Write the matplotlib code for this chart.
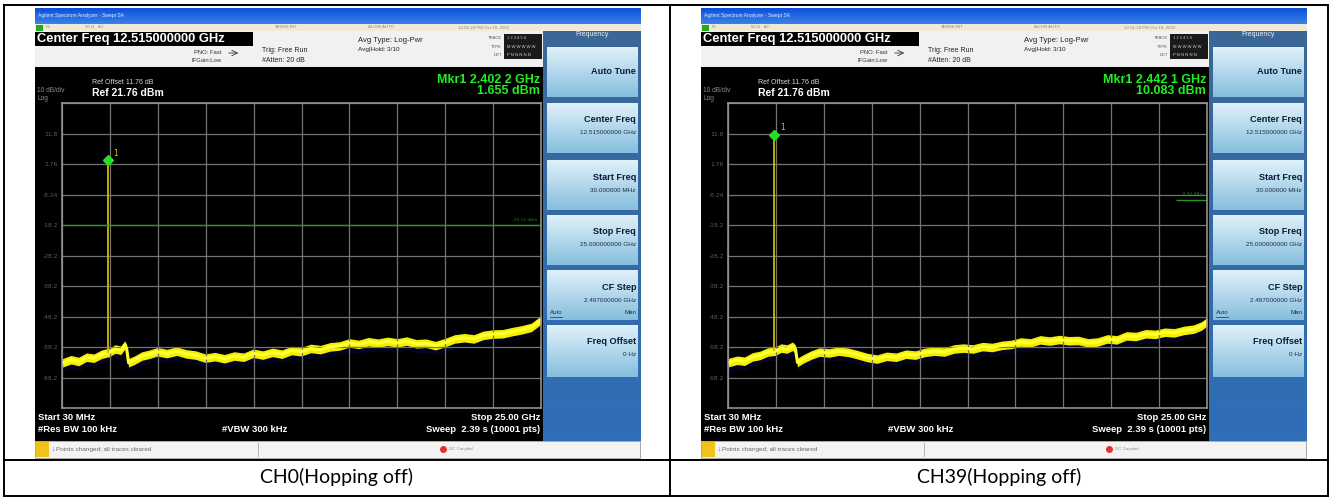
import matplotlib.pyplot as plt
import numpy as np
from matplotlib.patches import Rectangle
from matplotlib.colors import LinearSegmentedColormap
from matplotlib.transforms import offset_copy

W, H = 1338, 497

# spectrum traces (GHz, dBm)
freq_ch0 = [0.03, 0.5, 0.9, 1.3, 1.7, 2.1, 2.5, 2.8, 3.1, 3.3, 3.4, 3.5, 3.8, 4.2, 4.6,
            5.0, 5.5, 6.0, 6.5, 7.0, 7.5, 8.0, 8.5, 9.0, 9.5, 10.0, 10.5, 11.0, 11.5,
            12.0, 12.5, 13.0, 13.5, 14.0, 14.5, 15.0, 15.5, 16.0, 16.5, 17.0, 17.5,
            18.0, 18.5, 19.0, 19.5, 20.0, 20.5, 21.0, 21.5, 22.0, 22.5, 23.0, 23.5,
            24.0, 24.5, 25.0]
level_ch0 = [-63.5, -62.4, -63.0, -61.6, -61.9, -60.6, -60.0, -58.9, -59.3, -57.6, -58.8,
             -63.4, -62.6, -61.2, -60.6, -59.8, -60.4, -59.6, -60.5, -60.9, -61.9, -61.4,
             -62.1, -61.2, -61.6, -60.3, -60.9, -60.0, -60.6, -59.4, -59.8, -58.7, -59.1,
             -58.2, -57.9, -56.9, -57.4, -56.5, -57.0, -56.4, -56.9, -56.3, -57.2, -57.0,
             -57.8, -56.8, -55.6, -55.2, -55.6, -54.4, -54.0, -53.9, -53.2, -52.6, -51.8,
             -49.4]

freq_ch39 = [0.03, 0.5, 0.9, 1.3, 1.7, 2.1, 2.5, 2.8, 3.1, 3.4, 3.55, 3.65, 4.0, 4.4, 4.8,
             5.3, 5.8, 6.3, 6.8, 7.3, 7.8, 8.3, 8.8, 9.3, 9.8, 10.3, 10.8, 11.3, 11.8,
             12.3, 12.8, 13.3, 13.8, 14.3, 14.8, 15.3, 15.8, 16.3, 16.8, 17.3, 17.8,
             18.3, 18.8, 19.3, 19.8, 20.3, 20.8, 21.3, 21.8, 22.3, 22.8, 23.3, 23.8,
             24.3, 24.7, 25.0]
level_ch39 = [-63.4, -62.6, -62.9, -61.5, -61.0, -59.9, -59.6, -58.6, -58.9, -58.0, -59.0,
              -63.3, -62.0, -60.8, -59.9, -60.2, -59.6, -60.0, -60.8, -61.7, -62.2, -61.3,
              -61.6, -60.6, -60.9, -60.0, -59.6, -59.9, -58.9, -58.6, -58.9, -58.1, -58.4,
              -57.7, -57.4, -56.6, -56.9, -55.9, -56.3, -55.8, -56.2, -56.1, -56.9, -56.6,
              -55.6, -55.9, -54.6, -54.8, -53.9, -54.1, -53.4, -53.6, -52.8, -52.4, -51.4,
              -50.0]

mkr_freq = [2.4022, 2.4421]
mkr_level = [1.655, 10.083]
mkr_labels = [("Mkr1 2.402 2 GHz", "1.655 dBm"), ("Mkr1 2.442 1 GHz", "10.083 dBm")]
dl_from = [0.03, 23.4]          # where the display line starts
captions = ["CH0(Hopping off)", "CH39(Hopping off)"]

ref_level = 21.76
start_ghz, stop_ghz = 0.03, 25.0
softkeys = [("Auto Tune", ""), ("Center Freq", "12.515000000 GHz"),
            ("Start Freq", "30.000000 MHz"), ("Stop Freq", "25.000000000 GHz"),
            ("CF Step", "2.497000000 GHz"), ("Freq Offset", "0 Hz")]
key_rows = [(47, 97), (103, 153), (160, 210), (215, 265), (270, 320), (325, 377)]

fig = plt.figure(figsize=(W / 100, H / 100), dpi=100)
fig.patch.set_facecolor("white")
bg = fig.add_axes([0, 0, 1, 1])
bg.set_axis_off()

SANS = "Liberation Sans"


def grad(x0, x1, y0, y1, c_top, c_bot, z=1):
    cm = LinearSegmentedColormap.from_list("g", [c_top, c_bot])
    bg.imshow(np.linspace(0, 1, 64).reshape(-1, 1), cmap=cm, extent=(x0, x1, y1, y0),
              aspect="auto", zorder=z, interpolation="bilinear")


def rect(x0, y0, x1, y1, fc, ec="none", lw=0, z=1):
    bg.add_patch(Rectangle((x0, y0), x1 - x0, y1 - y0, fc=fc, ec=ec, lw=lw, zorder=z))


def txt(x, y, s, size, color="black", weight="normal", ha="left", z=5, family=SANS):
    bg.text(x, y, s, fontsize=size, color=color, fontweight=weight, ha=ha, va="center",
            zorder=z, family=family)


traces = [(freq_ch0, level_ch0), (freq_ch39, level_ch39)]

for i in range(2):
    dx = 666 * i
    # window chrome
    grad(35 + dx, 641 + dx, 8, 24, "#0b4fd8", "#3c82ea")
    txt(38 + dx, 15, "Agilent Spectrum Analyzer - Swept SA", 3.6, "#e8f0ff")
    rect(35 + dx, 24, 641 + dx, 31, "#efe9d8", z=2)
    rect(36 + dx, 24.5, 43 + dx, 30.5, "#22aa22", z=3)
    for xx, s in [(46, "RL"), (85, "50 \u03a9   AC"), (275, "SENSE:INT"), (368, "ALIGN AUTO"),
                  (458, "12:01:24 PM Oct 18, 2022")]:
        txt(xx + dx, 27.5, s, 3.2, "#8a8a8a")
    rect(35 + dx, 31, 543 + dx, 67, "#f1f1f1", z=2)
    rect(35 + dx, 32, 253 + dx, 46, "black", z=3)
    txt(37 + dx, 39, "Center Freq 12.515000000 GHz", 9.3, "white", "bold")
    txt(221 + dx, 52, "PNO: Fast", 4.2, "#333333", ha="right")
    txt(221 + dx, 61, "IFGain:Low", 4.2, "#333333", ha="right")
    bg.annotate("", xy=(241 + dx, 53), xytext=(226 + dx, 53), zorder=5,
                arrowprops=dict(arrowstyle="->", lw=0.6, color="#333333"))
    txt(262 + dx, 51, "Trig: Free Run", 5.0, "#222222")
    txt(262 + dx, 61, "#Atten: 20 dB", 5.0, "#222222")
    txt(358 + dx, 41, "Avg Type: Log-Pwr", 5.5, "#222222")
    txt(358 + dx, 49, "Avg|Hold: 3/10", 4.6, "#222222")
    rect(504 + dx, 34, 542 + dx, 59, "#1a1a1a", z=3)
    for yy, lab, val in [(38, "TRACE", "1 2 3 4 5 6"), (47, "TYPE", "M W W W W W"),
                         (55, "DET", "P N N N N N")]:
        txt(502 + dx, yy, lab, 3.0, "#555555", ha="right")
        txt(507 + dx, yy, val, 3.0, "#cfcfcf")

    # black screen
    rect(35 + dx, 67, 543 + dx, 441, "black", z=2)
    txt(37 + dx, 91, "10 dB/div", 4.8, "#8a8a8a")
    txt(37 + dx, 99, "Log", 4.8, "#8a8a8a")
    txt(92 + dx, 83, "Ref Offset 11.76 dB", 5.0, "#d8d8d8")
    txt(92 + dx, 93, "Ref 21.76 dBm", 7.5, "white", "bold")
    txt(540 + dx, 80, mkr_labels[i][0], 9, "#22ee22", "bold", ha="right")
    txt(540 + dx, 91, mkr_labels[i][1], 9, "#22ee22", "bold", ha="right")
    txt(38 + dx, 417, "Start 30 MHz", 6.8, "white", "bold")
    txt(38 + dx, 430, "#Res BW 100 kHz", 6.8, "white", "bold")
    txt(222 + dx, 430, "#VBW 300 kHz", 6.8, "white", "bold")
    txt(540 + dx, 417, "Stop 25.00 GHz", 6.8, "white", "bold", ha="right")
    txt(540 + dx, 430, "Sweep  2.39 s (10001 pts)", 6.8, "white", "bold", ha="right")

    # status bar
    rect(35 + dx, 441, 640 + dx, 458, "#f5f2f2", ec="#9a9a9a", lw=0.6, z=3)
    rect(36 + dx, 442, 49 + dx, 457, "#efc21e", z=4)
    txt(51 + dx, 449, "\u2193", 5, "#3050d0")
    txt(56 + dx, 449, "Points changed; all traces cleared", 4.6, "#6a6a6a")
    bg.plot([258 + dx, 258 + dx], [443, 456], color="#aaaaaa", lw=0.6, zorder=5)
    bg.plot([443 + dx], [449], marker="o", ms=4, color="#dd3333", zorder=5)
    txt(449 + dx, 449, "DC Coupled", 3.2, "#888888")

    # softkey column
    grad(543 + dx, 641 + dx, 24, 441, "#3b6796", "#2f6fb8")
    txt(592 + dx, 34, "Frequency", 5.0, "#e6eef8", ha="center")
    for (y0, y1), (title, sub) in zip(key_rows, softkeys):
        grad(547 + dx, 638 + dx, y0, y1, "#dff1fa", "#86bedd", z=2)
        if sub:
            txt(636 + dx, y0 + 17, title, 6.6, "#0c1c38", "bold", ha="right")
            txt(636 + dx, y0 + 30, sub, 4.6, "#1c2c48", ha="right")
        else:
            txt(636 + dx, (y0 + y1) / 2, title, 6.6, "#0c1c38", "bold", ha="right")
    txt(550 + dx, 313, "Auto", 4.4, "#1c2c48")
    bg.plot([550 + dx, 562 + dx], [316.5, 316.5], color="#1c2c48", lw=0.5, zorder=5)
    txt(636 + dx, 313, "Man", 4.4, "#1c2c48", ha="right")

bg.set_xlim(0, W)
bg.set_ylim(H, 0)

# table rules and captions
for xx in [3.5, 670, 1328]:
    bg.plot([xx, xx], [5, 497], color="black", lw=1.4, zorder=10)
for yy in [5, 460, 496]:
    bg.plot([3.5, 1328], [yy, yy], color="black", lw=1.4, zorder=10)
for i, cap in enumerate(captions):
    cx = (3.5 + 670) / 2 if i == 0 else (670 + 1328) / 2
    txt(cx, 477, cap, 14, "black", ha="center", family="Lato")

# graticules with traces
yt = ref_level - 10 * np.arange(11)
ylabels = [""] + ["%.3g" % v for v in yt[1:10]] + [""]
for i in range(2):
    x0, x1 = 62 + 666 * i, 541 + 666 * i
    y0, y1 = 103, 408
    ax = fig.add_axes([x0 / W, 1 - y1 / H, (x1 - x0) / W, (y1 - y0) / H])
    ax.set_facecolor("black")
    ax.set_xlim(start_ghz, stop_ghz)
    ax.set_ylim(ref_level - 100, ref_level)
    ax.set_xticks(np.linspace(start_ghz, stop_ghz, 11))
    ax.set_xticklabels([])
    ax.set_yticks(yt)
    ax.set_yticklabels(ylabels, fontsize=4.3, color="#5e5e5e")
    ax.tick_params(length=0, pad=3)
    ax.grid(True, color="#737373", lw=0.9)
    for s in ax.spines.values():
        s.set_color("#9a9a9a")
        s.set_linewidth(1.1)

    f, lev = np.array(traces[i][0]), np.array(traces[i][1])
    ax.fill_between(f, lev - 3.0, lev - 1.0, color="#0c0c55", alpha=0.35, lw=0)
    ax.fill_between(f, lev - 1.4, lev + 1.4, color="#f2f000", lw=0)
    ax.plot(f, lev, color="#ffff33", lw=2.2)
    floor = np.interp(mkr_freq[i], f, lev)
    ax.vlines(mkr_freq[i], floor, mkr_level[i], color="#cdb800", lw=1.3)
    ax.hlines(mkr_level[i] - 20, dl_from[i], stop_ghz, color="#1e9a1e", lw=1.0)
    ax.text(stop_ghz - 0.2, mkr_level[i] - 18.8, "%.2f dBm" % (mkr_level[i] - 20),
            fontsize=3.2, color="#1e7a1e", ha="right", va="bottom")
    up = offset_copy(ax.transData, fig=fig, x=0, y=4, units="dots")
    ax.plot([mkr_freq[i]], [mkr_level[i]], marker="D", ms=5.5, color="#25e025",
            transform=up, zorder=6)
    ax.annotate("1", (mkr_freq[i], mkr_level[i]), xytext=(4, 6), textcoords="offset points",
                color="#e6c200", fontsize=5.5)

fig.savefig("out.png", dpi=100)
